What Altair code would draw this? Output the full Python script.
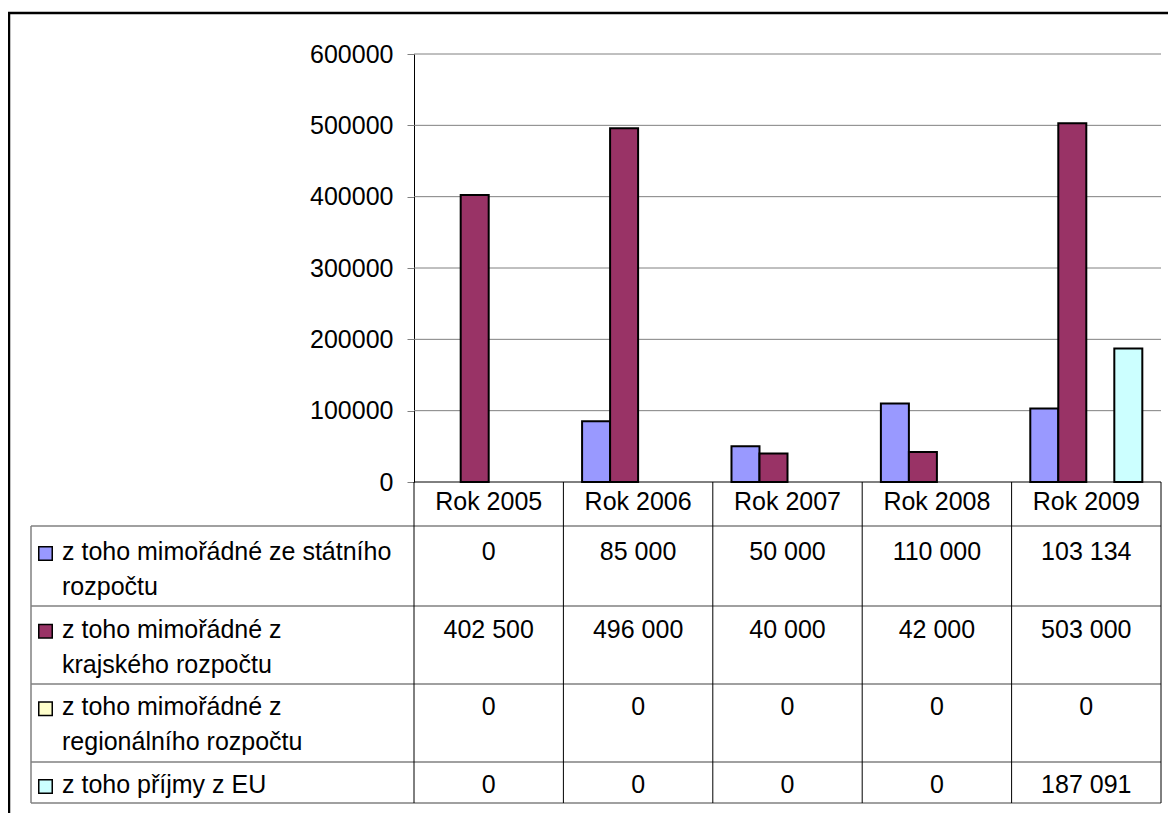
import altair as alt
import pandas as pd

years = ["Rok 2005", "Rok 2006", "Rok 2007", "Rok 2008", "Rok 2009"]
series = [
    "z toho mimořádné ze státního rozpočtu",
    "z toho mimořádné z krajského rozpočtu",
    "z toho mimořádné z regionálního rozpočtu",
    "z toho příjmy z EU",
]
series_lines = [
    ["z toho mimořádné ze státního", "rozpočtu"],
    ["z toho mimořádné z", "krajského rozpočtu"],
    ["z toho mimořádné z", "regionálního rozpočtu"],
    ["z toho příjmy z EU"],
]
statni = [0, 85000, 50000, 110000, 103134]
krajsky = [402500, 496000, 40000, 42000, 503000]
regionalni = [0, 0, 0, 0, 0]
eu = [0, 0, 0, 0, 187091]
colors = ["#9999FF", "#993366", "#FFFFCC", "#CCFFFF"]
y_ticks = [0, 100000, 200000, 300000, 400000, 500000, 600000]

rows = []
for s, vals in zip(series, [statni, krajsky, regionalni, eu]):
    for y, v in zip(years, vals):
        rows.append({"year": y, "series": s, "value": v,
                     "text": f"{v:,}".replace(",", " ")})
df = pd.DataFrame(rows)
df_years = pd.DataFrame({"year": years})
df_lab = pd.DataFrame({"series": series, "label": ["\n".join(l) for l in series_lines]})
one = pd.DataFrame({"a": [0]})

FONT = "Liberation Sans"
FS = 25
GRAY = "#808080"

XS = alt.Scale(domain=years, range=[406, 1153], paddingInner=0, paddingOuter=0)


def X(**kw):
    return alt.X("year:N", scale=XS, axis=None, **kw)


YQ = alt.Scale(domain=[0, 600000], range=[470, 42], nice=False, zero=True)
YROW = alt.Scale(type="point", domain=series, range=[548, 781], padding=0)
YSW = alt.Scale(type="point", domain=series, range=[541.5, 774.5], padding=0)
FILL = alt.Scale(domain=series, range=colors)

# outer frame (only top and left edges are visible in the reference)
frame_top = alt.Chart(one).mark_rule(color="black", strokeWidth=2.5).encode(
    y=alt.value(1), x=alt.value(0), x2=alt.value(1160))
frame_left = alt.Chart(one).mark_rule(color="black", strokeWidth=2.5).encode(
    x=alt.value(1), y=alt.value(0), y2=alt.value(801))

grid = alt.Chart(pd.DataFrame({"tick": y_ticks[1:]})).mark_rule(color=GRAY, strokeWidth=1).encode(
    y=alt.Y("tick:Q", scale=YQ, axis=None), x=alt.value(406), x2=alt.value(1153))

baseline = alt.Chart(one).mark_rule(color="black", strokeWidth=1).encode(
    y=alt.value(470), x=alt.value(406), x2=alt.value(1153))

bars = alt.Chart(df).transform_filter("datum.value > 0").mark_bar(
    stroke="black", strokeWidth=2).encode(
    x=X(),
    xOffset=alt.XOffset("series:N", scale=alt.Scale(domain=series, paddingInner=0, paddingOuter=0.667)),
    y=alt.Y("value:Q", scale=YQ, title=None,
            axis=alt.Axis(values=y_ticks, offset=-406, grid=False, domainColor="black",
                          tickColor=GRAY, tickSize=7, labelFont=FONT, labelFontSize=FS,
                          labelColor="black", labelPadding=14, format="d", labelOverlap=False)),
    fill=alt.Fill("series:N", scale=FILL, legend=None),
)

layers = [frame_top, frame_left, grid, baseline, bars]

for yy in [514, 594, 672, 750, 791]:
    layers.append(alt.Chart(one).mark_rule(color=GRAY, strokeWidth=1.5).encode(
        y=alt.value(yy), x=alt.value(23), x2=alt.value(1153)))
layers.append(alt.Chart(one).mark_rule(color=GRAY, strokeWidth=1.5).encode(
    x=alt.value(23), y=alt.value(514), y2=alt.value(791)))

vrules = alt.Chart(df_years).mark_rule(color="black", strokeWidth=1).encode(
    x=X(bandPosition=0), y=alt.value(470), y2=alt.value(791))
vright = alt.Chart(one).mark_rule(color="black", strokeWidth=1).encode(
    x=alt.value(1153), y=alt.value(470), y2=alt.value(791))

header = alt.Chart(df_years).mark_text(font=FONT, fontSize=FS, baseline="alphabetic",
                                        align="center", color="black").encode(
    x=X(), y=alt.value(498), text="year:N")

cells = alt.Chart(df).mark_text(font=FONT, fontSize=FS, baseline="alphabetic",
                                align="center", color="black").encode(
    x=X(), y=alt.Y("series:N", scale=YROW, axis=None), text="text:N")

labels = alt.Chart(df_lab).mark_text(font=FONT, fontSize=FS, baseline="alphabetic",
                                     align="left", color="black", lineBreak="\n",
                                     lineHeight=35).encode(
    x=alt.value(54), y=alt.Y("series:N", scale=YROW, axis=None), text="label:N")

swatches = alt.Chart(df_lab).mark_square(size=182, stroke="black", strokeWidth=1.5,
                                         opacity=1, filled=True).encode(
    x=alt.value(37.5), y=alt.Y("series:N", scale=YSW, axis=None),
    fill=alt.Fill("series:N", scale=FILL, legend=None))

layers += [vrules, vright, header, cells, labels, swatches]

chart = alt.layer(*layers).resolve_scale(y="independent").properties(
    width=1160, height=801,
    autosize=alt.AutoSizeParams(type="none"),
    padding={"left": 0, "top": 4, "right": 0, "bottom": 0},
).configure_view(strokeWidth=0)

chart.save("out.html", embed_options={"renderer": "svg", "actions": False})
